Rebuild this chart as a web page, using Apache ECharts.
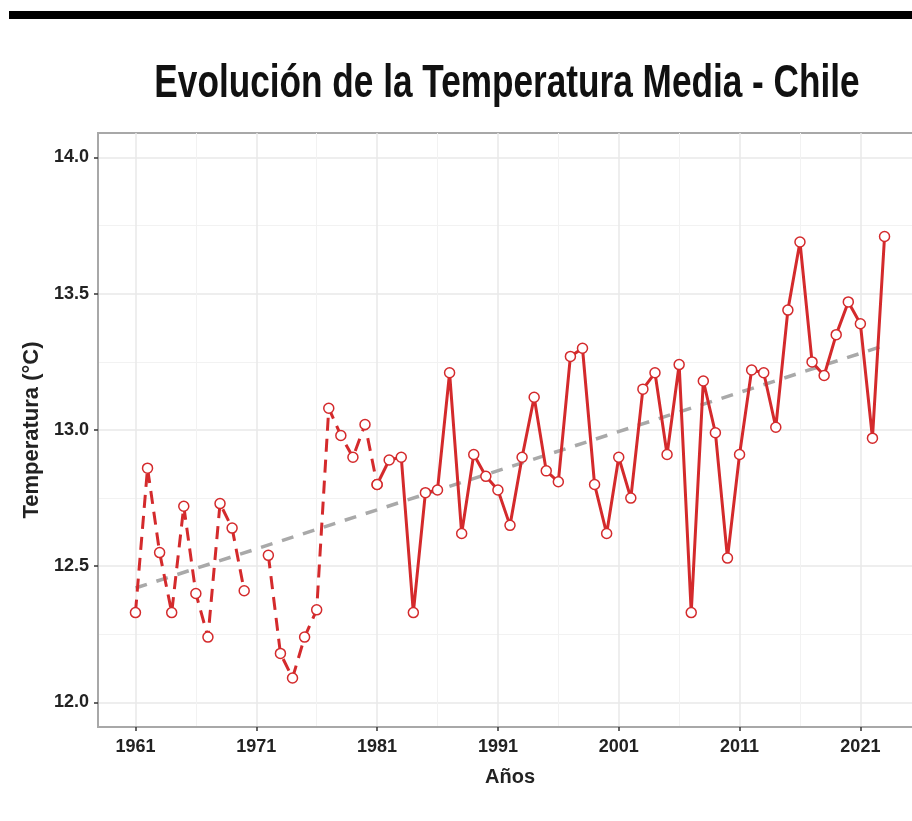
<!DOCTYPE html>
<html>
<head>
<meta charset="utf-8">
<script src="https://cdn.jsdelivr.net/npm/echarts@6/dist/echarts.min.js"></script>
<style>
html,body{margin:0;padding:0;background:#fff;overflow:hidden;width:912px;height:821px;}
#bar{position:absolute;left:9px;top:11px;width:903px;height:8px;background:#000;}
#chart{position:absolute;left:0;top:0;width:922px;height:821px;}
</style>
</head>
<body>
<div id="chart"></div>
<div id="bar"></div>
<script>
const titleText = 'Evolución de la Temperatura Media - Chile';
const xTitle = 'Años';
const yTitle = 'Temperatura (°C)';
const years = [1961,1962,1963,1964,1965,1966,1967,1968,1969,1970,1971,1972,1973,1974,1975,1976,1977,1978,1979,1980,
  1981,1982,1983,1984,1985,1986,1987,1988,1989,1990,1991,1992,1993,1994,1995,1996,1997,1998,1999,2000,
  2001,2002,2003,2004,2005,2006,2007,2008,2009,2010,2011,2012,2013,2014,2015,2016,2017,2018,2019,2020,
  2021,2022,2023];
const temps = [12.33,12.86,12.55,12.33,12.72,12.40,12.24,12.73,12.64,12.41,null,12.54,12.18,12.09,12.24,12.34,13.08,12.98,12.90,13.02,
  12.80,12.89,12.90,12.33,12.77,12.78,13.21,12.62,12.91,12.83,12.78,12.65,12.90,13.12,12.85,12.81,13.27,13.30,12.80,12.62,
  12.90,12.75,13.15,13.21,12.91,13.24,12.33,13.18,12.99,12.53,12.91,13.22,13.21,13.01,13.44,13.69,13.25,13.20,13.35,13.47,
  13.39,12.97,13.71];
const dashedUntil = 1981;           // dashed line up to this year, solid after
const trendYears = [1961, 2023];
const trendTemps = [12.42, 13.31];
const xTicks = [1961,1971,1981,1991,2001,2011,2021];
const xMinorTicks = [1966,1976,1986,1996,2006,2016,2026];
const yTicks = [12.0,12.5,13.0,13.5,14.0];
const yMinorTicks = [12.25,12.75,13.25,13.75];
const xRange = [1957.9, 2026.1];
const yRange = [11.91, 14.09];

const pairs = years.map((y,i)=>[y, temps[i] === null ? '-' : temps[i]]);
const dashedData = pairs.filter(p=>p[0] <= dashedUntil);
const solidData = pairs.filter(p=>p[0] >= dashedUntil);
const trendData = trendYears.map((y,i)=>[y, trendTemps[i]]);

const RED = '#d42a2c';
const FONT = "'Liberation Sans',Arial,sans-serif";

const chart = echarts.init(document.getElementById('chart'));
chart.setOption({
  animation:false,
  backgroundColor:'#fff',
  graphic:[{
    type:'text', x:507, y:84, scaleX:0.765, z:10,
    style:{text:titleText, font:"bold 46px 'Liberation Sans', Arial, sans-serif",
      fill:'#111', textAlign:'center', textVerticalAlign:'middle'}
  }],
  grid:{left:98, top:133, right:0, bottom:94, show:true, borderColor:'#a8a8a8', borderWidth:2, backgroundColor:'#fff'},
  xAxis:[{
    type:'value', min:xRange[0], max:xRange[1],
    name:xTitle, nameLocation:'middle', nameGap:40,
    nameTextStyle:{fontFamily:FONT, fontWeight:'bold', fontSize:20, color:'#222'},
    axisLine:{show:true, onZero:false, lineStyle:{color:'#a8a8a8', width:2}},
    axisTick:{show:true, length:4, customValues:xTicks, lineStyle:{color:'#333', width:1.5}},
    axisLabel:{customValues:xTicks, margin:11, fontFamily:FONT, fontWeight:'bold', fontSize:18, color:'#222',
      formatter:v=>String(v)},
    splitLine:{show:true, lineStyle:{color:'#e8e8e8', width:1.5}}
  },{
    type:'value', min:xRange[0], max:xRange[1], position:'bottom',
    axisLine:{show:false}, axisLabel:{show:false},
    axisTick:{show:false, customValues:xMinorTicks},
    splitLine:{show:true, lineStyle:{color:'#f2f2f2', width:1}}
  }],
  yAxis:[{
    type:'value', min:yRange[0], max:yRange[1],
    name:yTitle, nameLocation:'middle', nameGap:39, nameRotate:90,
    nameTextStyle:{fontFamily:FONT, fontWeight:'bold', fontSize:22, color:'#222'},
    axisLine:{show:true, onZero:false, lineStyle:{color:'#a8a8a8', width:2}},
    axisTick:{show:true, length:4, customValues:yTicks, lineStyle:{color:'#333', width:1.5}},
    axisLabel:{customValues:yTicks, margin:9, fontFamily:FONT, fontWeight:'bold', fontSize:18, color:'#222',
      formatter:v=>v.toFixed(1)},
    splitLine:{show:true, lineStyle:{color:'#e8e8e8', width:1.5}}
  },{
    type:'value', min:yRange[0], max:yRange[1], position:'left',
    axisLine:{show:false}, axisLabel:{show:false},
    axisTick:{show:false, customValues:yMinorTicks},
    splitLine:{show:true, lineStyle:{color:'#f2f2f2', width:1}}
  }],
  series:[{
    type:'line', data:trendData, xAxisIndex:0, yAxisIndex:0, symbol:'none', z:3,
    lineStyle:{color:'#a9a9a9', width:3.5, type:[12,10]}
  },{
    type:'line', data:dashedData, xAxisIndex:0, yAxisIndex:0, connectNulls:false, z:4,
    symbol:'circle', symbolSize:10,
    lineStyle:{color:RED, width:3, type:[13,8]},
    itemStyle:{color:'#fff', borderColor:RED, borderWidth:1.5}
  },{
    type:'line', data:solidData, xAxisIndex:0, yAxisIndex:0, z:4,
    symbol:'circle', symbolSize:10,
    lineStyle:{color:RED, width:3},
    itemStyle:{color:'#fff', borderColor:RED, borderWidth:1.5}
  }]
});
</script>
</body>
</html>
